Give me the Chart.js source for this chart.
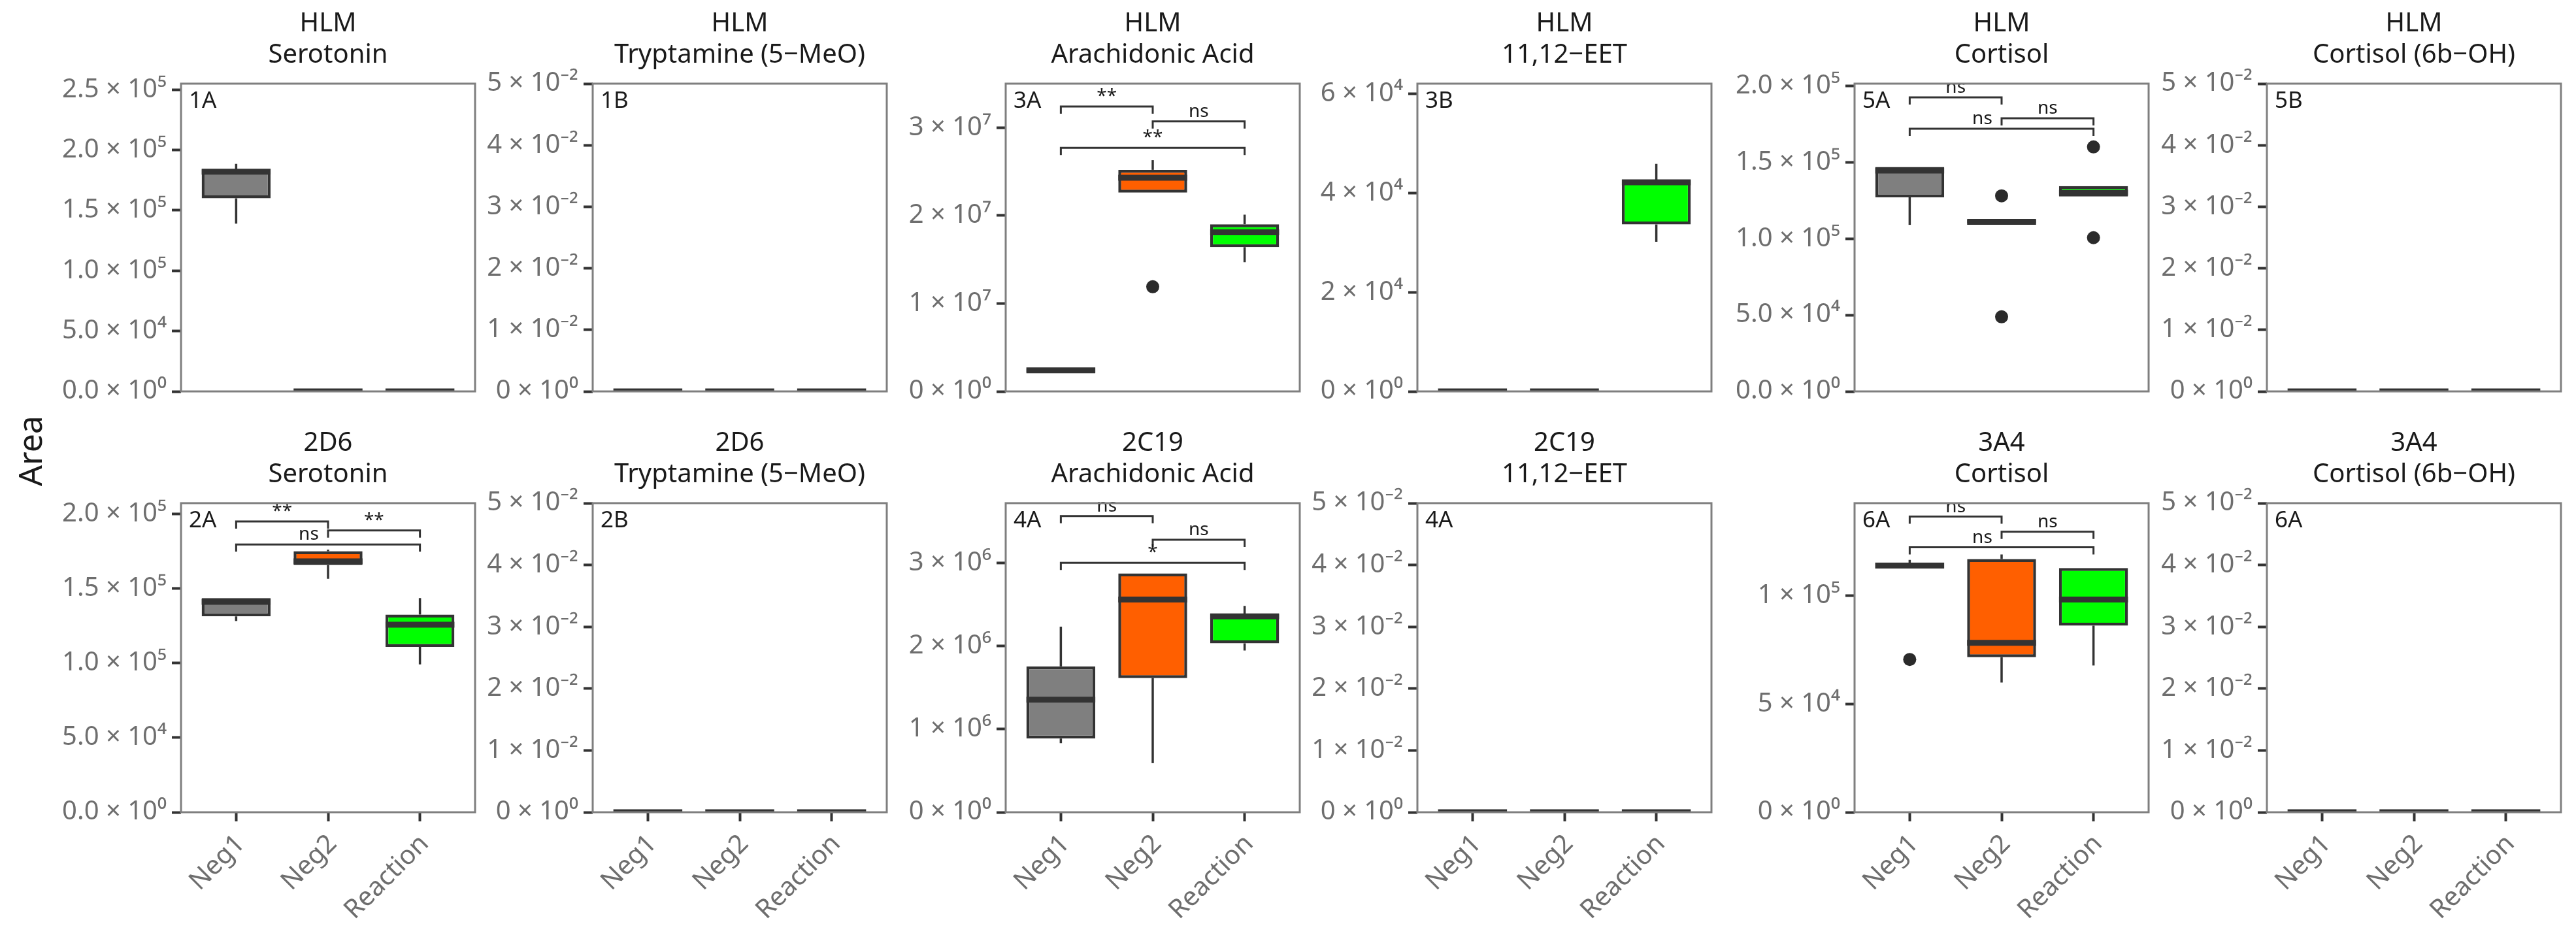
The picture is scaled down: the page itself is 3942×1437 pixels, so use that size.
<!DOCTYPE html>
<html>
<head>
<meta charset="utf-8">
<script src="https://cdn.jsdelivr.net/npm/chart.js@4.4.1/dist/chart.umd.min.js"></script>
<style>
  html, body { margin: 0; padding: 0; background: #fff; }
  #page { position: relative; width: 3942px; height: 1437px; overflow: hidden; background: #fff; }
  #page canvas { position: absolute; }
  #ylab {
    position: absolute; left: 45px; top: 690px;
    transform: translate(-50%, -50%) rotate(-90deg);
    font: 50px 'Noto Sans', sans-serif; color: #1a1a1a; white-space: nowrap;
  }
</style>
</head>
<body>
<div id="page"><div id="ylab">Area</div></div>
<script>
// Categories and fills shared by every panel
const categories = ['Neg1', 'Neg2', 'Reaction'];
const fills = ['#7f7f7f', '#ff5f00', '#00ff00'];

// Box summaries per category: [low whisker, q1, median, q3, high whisker]
const zeroBoxes = [[0, 0, 0, 0, 0], [0, 0, 0, 0, 0], [0, 0, 0, 0, 0]];

const box1A = [[1.39e5, 1.60e5, 1.82e5, 1.84e5, 1.885e5], [0, 0, 0, 0, 0], [0, 0, 0, 0, 0]];
const box3A = [[2.2e6, 2.2e6, 2.4e6, 2.6e6, 2.6e6], [2.26e7, 2.26e7, 2.43e7, 2.52e7, 2.63e7], [1.47e7, 1.64e7, 1.81e7, 1.90e7, 2.01e7]];
const box3B = [[0, 0, 0, 0, 0], [0, 0, 0, 0, 0], [3.02e4, 3.37e4, 4.22e4, 4.26e4, 4.59e4]];
const box5A = [[1.09e5, 1.27e5, 1.445e5, 1.469e5, 1.469e5], [1.10e5, 1.10e5, 1.11e5, 1.12e5, 1.12e5], [1.275e5, 1.275e5, 1.30e5, 1.344e5, 1.344e5]];
const box2A = [[1.282e5, 1.313e5, 1.411e5, 1.436e5, 1.436e5], [1.565e5, 1.657e5, 1.682e5, 1.75e5, 1.76e5], [0.991e5, 1.108e5, 1.257e5, 1.325e5, 1.436e5]];
const box4A = [[0.83e6, 0.886e6, 1.354e6, 1.753e6, 2.232e6], [0.59e6, 1.613e6, 2.557e6, 2.871e6, 2.871e6], [1.945e6, 2.03e6, 2.354e6, 2.38e6, 2.48e6]];
const box6A = [[1.125e5, 1.125e5, 1.14e5, 1.153e5, 1.166e5], [5.99e4, 7.16e4, 7.83e4, 1.170e5, 1.191e5], [6.78e4, 8.62e4, 9.83e4, 1.128e5, 1.128e5]];

// Outliers: [category index, value]
const out3A = [[1, 1.19e7]];
const out5A = [[1, 1.28e5], [1, 4.88e4], [2, 1.60e5], [2, 1.006e5]];
const out6A = [[0, 7.06e4]];

// Significance brackets: [from, to, value, label, label position (optional)]
const sig3A = [[0, 1, 3.24e7, '**'], [1, 2, 3.07e7, 'ns'], [0, 2, 2.77e7, '**']];
const sig5A = [[0, 1, 1.924e5, 'ns'], [1, 2, 1.787e5, 'ns'], [0, 2, 1.719e5, 'ns', 0.79]];
const sig2A = [[0, 1, 1.949e5, '**'], [1, 2, 1.889e5, '**'], [0, 2, 1.795e5, 'ns', 0.79]];
const sig4A = [[0, 1, 3.561e6, 'ns'], [1, 2, 3.277e6, 'ns'], [0, 2, 3.0e6, '*']];
const sig6A = [[0, 1, 1.366e5, 'ns'], [1, 2, 1.296e5, 'ns'], [0, 2, 1.224e5, 'ns', 0.79]];

// Y axis ticks and labels
const ticksEmpty = [0, 0.01, 0.02, 0.03, 0.04, 0.05];
const labelsEmpty = ['0 × 10⁰', '1 × 10⁻²', '2 × 10⁻²', '3 × 10⁻²', '4 × 10⁻²', '5 × 10⁻²'];
const ticks1A = [0, 5e4, 1e5, 1.5e5, 2e5, 2.5e5];
const labels1A = ['0.0 × 10⁰', '5.0 × 10⁴', '1.0 × 10⁵', '1.5 × 10⁵', '2.0 × 10⁵', '2.5 × 10⁵'];
const ticks2A = [0, 5e4, 1e5, 1.5e5, 2e5];
const labels2A = ['0.0 × 10⁰', '5.0 × 10⁴', '1.0 × 10⁵', '1.5 × 10⁵', '2.0 × 10⁵'];
const ticks3A = [0, 1e7, 2e7, 3e7];
const labels3A = ['0 × 10⁰', '1 × 10⁷', '2 × 10⁷', '3 × 10⁷'];
const ticks3B = [0, 2e4, 4e4, 6e4];
const labels3B = ['0 × 10⁰', '2 × 10⁴', '4 × 10⁴', '6 × 10⁴'];
const ticks4A = [0, 1e6, 2e6, 3e6];
const labels4A = ['0 × 10⁰', '1 × 10⁶', '2 × 10⁶', '3 × 10⁶'];
const ticks6A = [0, 5e4, 1e5];
const labels6A = ['0 × 10⁰', '5 × 10⁴', '1 × 10⁵'];

// Layout (pixels) kept apart from the data
const FONT = "'Noto Sans', sans-serif";
const colLeft = [277, 907, 1539, 2169, 2838, 3469];
const PANEL_W = 450, PANEL_H = 473;
const rowTop = [128, 770];
const TITLE_H = 128, Y_W = 230, PAD_R = 10;

// One entry per panel: [row, col, title, tag, boxes, outliers, brackets, max, ticks, labels]
const panels = [
  [0, 0, ['HLM', 'Serotonin'], '1A', box1A, [], [], 2.55e5, ticks1A, labels1A],
  [0, 1, ['HLM', 'Tryptamine (5−MeO)'], '1B', zeroBoxes, [], [], 0.05, ticksEmpty, labelsEmpty],
  [0, 2, ['HLM', 'Arachidonic Acid'], '3A', box3A, out3A, sig3A, 3.5e7, ticks3A, labels3A],
  [0, 3, ['HLM', '11,12−EET'], '3B', box3B, [], [], 6.21e4, ticks3B, labels3B],
  [0, 4, ['HLM', 'Cortisol'], '5A', box5A, out5A, sig5A, 2.014e5, ticks2A, labels2A],
  [0, 5, ['HLM', 'Cortisol (6b−OH)'], '5B', zeroBoxes, [], [], 0.05, ticksEmpty, labelsEmpty],
  [1, 0, ['2D6', 'Serotonin'], '2A', box2A, [], sig2A, 2.072e5, ticks2A, labels2A],
  [1, 1, ['2D6', 'Tryptamine (5−MeO)'], '2B', zeroBoxes, [], [], 0.05, ticksEmpty, labelsEmpty],
  [1, 2, ['2C19', 'Arachidonic Acid'], '4A', box4A, [], sig4A, 3.716e6, ticks4A, labels4A],
  [1, 3, ['2C19', '11,12−EET'], '4A', zeroBoxes, [], [], 0.05, ticksEmpty, labelsEmpty],
  [1, 4, ['3A4', 'Cortisol'], '6A', box6A, out6A, sig6A, 1.428e5, ticks6A, labels6A],
  [1, 5, ['3A4', 'Cortisol (6b−OH)'], '6A', zeroBoxes, [], [], 0.05, ticksEmpty, labelsEmpty]
];

// Draws whiskers, medians, brackets, panel border and tag
function boxExtras(boxes, brackets, tag) {
  function clipArea(ctx, area) {
    ctx.beginPath();
    ctx.rect(area.left, area.top, area.width, area.height);
    ctx.clip();
  }
  return {
    id: 'boxExtras',
    beforeDatasetsDraw(chart) {
      const { ctx, chartArea, scales: { x, y } } = chart;
      ctx.save();
      clipArea(ctx, chartArea);
      ctx.strokeStyle = '#333333';
      ctx.lineWidth = 3.5;
      boxes.forEach((s, i) => {
        const px = x.getPixelForValue(i + 1);
        ctx.beginPath();
        ctx.moveTo(px, y.getPixelForValue(s[0]));
        ctx.lineTo(px, y.getPixelForValue(s[1]));
        ctx.moveTo(px, y.getPixelForValue(s[3]));
        ctx.lineTo(px, y.getPixelForValue(s[4]));
        ctx.stroke();
      });
      ctx.restore();
    },
    afterDatasetDraw(chart, args) {
      if (args.index !== 0) return;
      const { ctx, chartArea, scales: { x, y } } = chart;
      ctx.save();
      clipArea(ctx, chartArea);
      ctx.strokeStyle = '#333333';
      ctx.lineWidth = 9;
      boxes.forEach((s, i) => {
        const py = y.getPixelForValue(s[2]);
        ctx.beginPath();
        ctx.moveTo(x.getPixelForValue(i + 1 - 0.375), py);
        ctx.lineTo(x.getPixelForValue(i + 1 + 0.375), py);
        ctx.stroke();
      });
      ctx.restore();
    },
    afterDraw(chart) {
      const { ctx, chartArea, scales: { x, y } } = chart;
      ctx.save();
      // significance brackets
      ctx.strokeStyle = '#333333';
      ctx.fillStyle = '#1a1a1a';
      ctx.lineWidth = 3;
      ctx.font = '28px ' + FONT;
      ctx.textAlign = 'center';
      ctx.textBaseline = 'bottom';
      brackets.forEach(([a, b, v, label, lx]) => {
        const x1 = x.getPixelForValue(a + 1);
        const x2 = x.getPixelForValue(b + 1);
        const py = y.getPixelForValue(v);
        ctx.beginPath();
        ctx.moveTo(x1, py + 11);
        ctx.lineTo(x1, py);
        ctx.lineTo(x2, py);
        ctx.lineTo(x2, py + 11);
        ctx.stroke();
        const pos = lx === undefined ? (a + b) / 2 : lx;
        ctx.fillText(label, x.getPixelForValue(pos + 1), py - 1);
      });
      // panel border
      ctx.strokeStyle = '#7f7f7f';
      ctx.lineWidth = 3;
      ctx.strokeRect(chartArea.left, chartArea.top, chartArea.width, chartArea.height);
      // panel tag
      ctx.fillStyle = '#1a1a1a';
      ctx.font = '35px ' + FONT;
      ctx.textAlign = 'left';
      ctx.textBaseline = 'middle';
      ctx.fillText(tag, chartArea.left + 12, chartArea.top + 27);
      ctx.restore();
    }
  };
}

function makePanel([row, col, title, tag, boxes, outliers, brackets, max, ticks, labels]) {
  const showX = row === 1;
  const xH = showX ? 1437 - (rowTop[1] + PANEL_H) : 30;
  const canvas = document.createElement('canvas');
  canvas.width = Y_W + PANEL_W + PAD_R;
  canvas.height = TITLE_H + PANEL_H + xH;
  canvas.style.left = (colLeft[col] - Y_W) + 'px';
  canvas.style.top = (rowTop[row] - TITLE_H) + 'px';
  document.getElementById('page').appendChild(canvas);

  const tickFont = { family: FONT, size: 40 };
  new Chart(canvas, {
    type: 'bar',
    data: {
      datasets: [
        {
          type: 'bar',
          data: boxes.map((s, i) => ({ x: i + 1, y: [s[1], s[3]] })),
          backgroundColor: fills,
          borderColor: '#333333',
          borderWidth: 4.5,
          borderSkipped: false,
          barPercentage: 0.75,
          categoryPercentage: 1
        },
        {
          type: 'scatter',
          data: outliers.map(([i, v]) => ({ x: i + 1, y: v })),
          pointRadius: 10,
          pointBackgroundColor: '#2b2b2b',
          pointBorderWidth: 0
        }
      ]
    },
    options: {
      responsive: false,
      animation: false,
      devicePixelRatio: 1,
      layout: { padding: { left: 0, right: PAD_R, top: 0, bottom: 0 } },
      plugins: {
        legend: { display: false },
        tooltip: { enabled: false },
        title: {
          display: true,
          fullSize: false,
          text: title,
          color: '#1a1a1a',
          font: { family: FONT, size: 40, weight: 'normal', lineHeight: 1.2 },
          padding: { top: 13, bottom: 19 }
        }
      },
      scales: {
        x: {
          type: 'linear',
          min: 0.4,
          max: 3.6,
          offset: false,
          afterBuildTicks: s => { s.ticks = categories.map((c, i) => ({ value: i + 1 })); },
          afterFit: s => { s.height = xH; },
          ticks: {
            display: showX,
            autoSkip: false,
            minRotation: 45,
            maxRotation: 45,
            padding: 11,
            labelOffset: 7,
            color: '#6e6e6e',
            font: tickFont,
            callback: (v, i) => categories[i]
          },
          grid: {
            display: showX,
            offset: false,
            drawOnChartArea: false,
            tickLength: 14,
            tickWidth: 4,
            tickColor: '#333333'
          },
          border: { display: false }
        },
        y: {
          type: 'linear',
          min: 0,
          max: max,
          afterBuildTicks: s => { s.ticks = ticks.map(v => ({ value: v })); },
          afterFit: s => { s.width = Y_W; },
          ticks: {
            autoSkip: false,
            padding: 8,
            color: '#6e6e6e',
            font: tickFont,
            callback: (v, i) => labels[i]
          },
          grid: {
            drawOnChartArea: false,
            tickLength: 14,
            tickWidth: 4,
            tickColor: '#333333'
          },
          border: { display: false }
        }
      }
    },
    plugins: [boxExtras(boxes, brackets, tag)]
  });
}

panels.forEach(makePanel);
</script>
</body>
</html>
